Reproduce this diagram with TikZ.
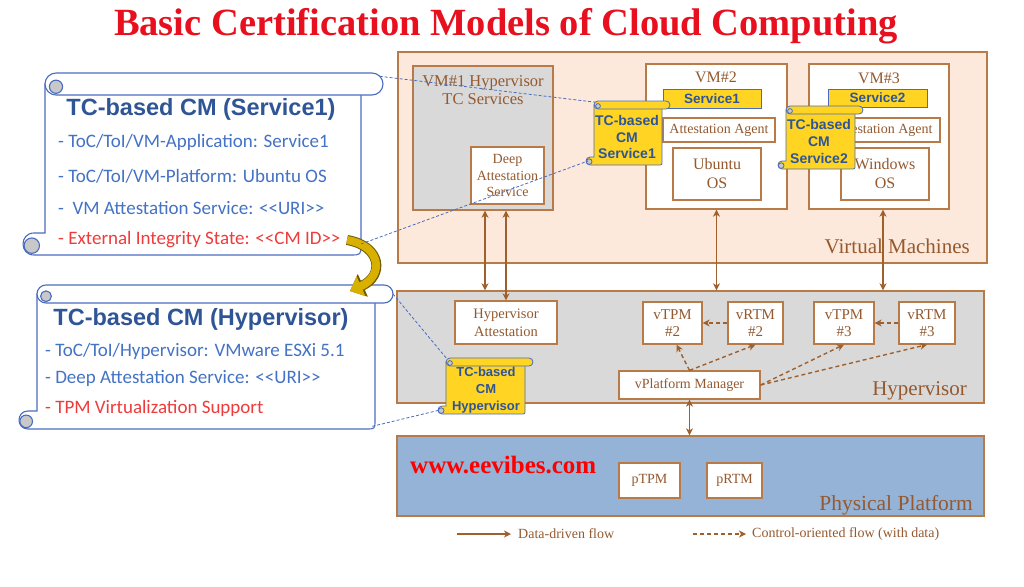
\documentclass[tikz,border=0pt]{standalone}
\usepackage{fontspec}
\setmainfont{Liberation Serif}
\newfontfamily\arialf{Liberation Sans}
\newfontfamily\calib{Carlito}
\usetikzlibrary{arrows.meta}
\definecolor{vmfill}{HTML}{FDE9DB}
\definecolor{grayfill}{HTML}{D9D9D9}
\definecolor{physfill}{HTML}{95B3D7}
\definecolor{brd}{HTML}{B87B47}
\definecolor{brtxt}{HTML}{94592F}
\definecolor{brarr}{HTML}{A0602C}
\definecolor{scrblue}{HTML}{4A6CC0}
\definecolor{cmblue}{HTML}{2F5597}
\definecolor{itemblue}{HTML}{4472C4}
\definecolor{itemred}{HTML}{EE3B3B}
\definecolor{titlered}{HTML}{E8101E}
\definecolor{scryel}{HTML}{FFD422}
\definecolor{gold}{HTML}{D8B000}
\definecolor{goldedge}{HTML}{6E5B00}
\definecolor{curlgray}{HTML}{C8C8C8}
\newcommand\dlt{<\kern0pt<}
\newcommand\dgt{>\kern0pt>}
% scroll: name, left, top, right, bottom, roll radius, extra style
\newcommand{\cmscroll}[7]{%
  \filldraw[scrl, #7] (#2,#3+#6) -- (#2,#5-2*#6) -- (#2-#6,#5-2*#6)
    .. controls (#2-2.33*#6,#5-2*#6) and (#2-2.33*#6,#5) .. (#2-#6,#5)
    -- (#4-3*#6,#5) .. controls (#4-2*#6,#5) .. (#4-2*#6,#5-#6)
    -- (#4-2*#6,#3+#6) -- cycle;
  \filldraw[scrl, #7, fill=curlgray] (#2-1.2*#6,#5-0.85*#6) circle[radius=0.7*#6];
  \filldraw[scrl, #7, rounded corners=#6pt] (#2,#3) rectangle (#4,#3+2*#6);
  \filldraw[scrl, #7, fill=curlgray] (#2+#6,#3+1.25*#6) circle[radius=0.6*#6];
  \coordinate (#1-ne) at (#4-0.3*#6,#3+0.3*#6);
  \coordinate (#1-e) at (#4,#3+#6);
  \coordinate (#1-nw) at (#2+0.3*#6,#3+0.3*#6);
  \coordinate (#1-sw) at (#2-1.5*#6,#5-#6);
  \coordinate (#1-e2) at (#4-2*#6,#5-#6);
  \coordinate (#1-se) at (#4-2.3*#6,#5-0.3*#6);
}

\begin{document}
\begin{tikzpicture}[x=1pt, y=-1pt,
  layer/.style={draw=brd, line width=1.3pt, inner sep=0pt},
  wbox/.style={draw=brd, line width=1.2pt, fill=white, inner sep=0pt, align=center, text=brtxt, font=\fontsize{14}{16.5}\selectfont},
  lbl/.style={inner sep=0pt, text=brtxt, align=center},
  ybar/.style={draw=scrblue, line width=0.8pt, fill=scryel, inner sep=0pt, text=cmblue, font=\arialf\bfseries\fontsize{13.5}{15}\selectfont},
  cmtxt/.style={inner sep=0pt, align=center, text=cmblue, font=\arialf\bfseries\fontsize{14}{16.5}\selectfont},
  cmtitle/.style={inner sep=0pt, anchor=base, text=cmblue, font=\arialf\bfseries\fontsize{23.5}{26}\selectfont},
  item/.style={inner sep=0pt, anchor=base west, text=itemblue, font=\calib\fontsize{19}{22}\selectfont},
  arr/.style={{Stealth[length=7pt,width=7pt,inset=2pt]}-{Stealth[length=7pt,width=7pt,inset=2pt]}, line width=1.4pt, draw=brarr},
  sarr/.style={-{Stealth[length=7pt,width=7pt,inset=2pt]}, line width=1.4pt, draw=brarr},
  darr/.style={-{Stealth[length=7pt,width=7pt,inset=2pt]}, dash pattern=on 4pt off 3pt, line width=1.4pt, draw=brarr},
  link/.style={draw=scrblue, line width=0.8pt, dash pattern=on 3pt off 2pt},
  scrl/.style={draw=scrblue}
]
  \useasboundingbox (0,0) rectangle (1024,586);
  \node[inner sep=0pt, anchor=base, text=titlered, font=\bfseries\fontsize{38.5}{40}\selectfont] (title) at (506,36) {Basic Certification Models of Cloud Computing};

  % layers
  \node[layer, fill=vmfill, minimum width=589pt, minimum height=211pt] (vms) at (692.5,157.5) {};
  \node[layer, fill=grayfill, minimum width=587pt, minimum height=112pt] (hyp) at (690.5,347) {};
  \node[layer, fill=physfill, minimum width=587pt, minimum height=80pt] (phys) at (690.5,476) {};
  \node[lbl, anchor=base east, font=\fontsize{21}{24}\selectfont] (vmslbl) at (970,253) {Virtual Machines};
  \node[lbl, anchor=base east, font=\fontsize{21}{24}\selectfont] (hyplbl) at (967,395) {Hypervisor};
  \node[lbl, anchor=base east, font=\fontsize{21.5}{24}\selectfont] (physlbl) at (973,510) {Physical Platform};

  % VM#1
  \node[layer, fill=grayfill, minimum width=140pt, minimum height=144pt] (vm1) at (483,138) {};
  \node[lbl, font=\fontsize{16.5}{18}\selectfont] (vm1lbl) at (483,90) {VM\#1 Hypervisor\\TC Services};
  \node[wbox, minimum width=73pt, minimum height=57pt] (deep) at (507.5,175.5) {Deep\\Attestation\\Service};

  % VM#2
  \node[layer, fill=white, minimum width=141pt, minimum height=145pt] (vm2) at (716.5,136.5) {};
  \node[lbl, font=\fontsize{16}{18}\selectfont] (vm2lbl) at (716,77) {VM\#2};
  \node[ybar, minimum width=98pt, minimum height=19pt] (svc1) at (712,98.5) {Service1};
  \node[wbox, minimum width=112pt, minimum height=24pt] (agent2) at (719,130) {Attestation Agent};
  \node[wbox, minimum width=88pt, minimum height=52pt, font=\fontsize{16}{19}\selectfont] (ubuntu) at (717,174) {Ubuntu\\OS};

  % VM#3
  \node[layer, fill=white, minimum width=140pt, minimum height=145pt] (vm3) at (879,136.5) {};
  \node[lbl, font=\fontsize{16}{18}\selectfont] (vm3lbl) at (879,78) {VM\#3};
  \node[ybar, minimum width=99pt, minimum height=18pt] (svc2) at (877.5,98) {Service2};
  \node[wbox, minimum width=114pt, minimum height=24pt] (agent3) at (883,130) {Attestation Agent};
  \node[wbox, minimum width=88pt, minimum height=52pt, font=\fontsize{16}{19}\selectfont] (windows) at (885,174) {Windows\\OS};

  % hypervisor
  \node[wbox, minimum width=102pt, minimum height=43pt, font=\fontsize{14.5}{18}\selectfont] (hypatt) at (506,322.5) {Hypervisor\\Attestation};
  \node[wbox, minimum width=59pt, minimum height=42pt, font=\fontsize{15}{17}\selectfont] (vtpm2) at (672.5,323) {vTPM\\\#2};
  \node[wbox, minimum width=55pt, minimum height=42pt, font=\fontsize{15}{17}\selectfont] (vrtm2) at (755.5,323) {vRTM\\\#2};
  \node[wbox, minimum width=60pt, minimum height=42pt, font=\fontsize{15}{17}\selectfont] (vtpm3) at (844,323) {vTPM\\\#3};
  \node[wbox, minimum width=56pt, minimum height=42pt, font=\fontsize{15}{17}\selectfont] (vrtm3) at (927,323) {vRTM\\\#3};
  \node[wbox, minimum width=141pt, minimum height=28pt] (vpm) at (689.5,385) {vPlatform Manager};

  % physical platform
  \node[wbox, minimum width=61pt, minimum height=35pt] (ptpm) at (649.5,480.5) {pTPM};
  \node[wbox, minimum width=55pt, minimum height=35pt] (prtm) at (734.5,480.5) {pRTM};
  \node[inner sep=0pt, anchor=base west, text=red, font=\bfseries\fontsize{25}{28}\selectfont] (web) at (410,473) {www.eevibes.com};

  % flows
  \draw[arr] ([xshift=2pt]vm1.south) -- ([xshift=2pt]vm1.south |- hyp.north);
  \draw[arr] (hypatt.north |- vm1.south) -- (hypatt.north);
  \draw[arr] (vm2.south) -- (vm2.south |- hyp.north);
  \draw[arr] ([xshift=4pt]vm3.south) -- ([xshift=4pt]vm3.south |- hyp.north);
  \draw[arr] (vpm.south) -- (vpm.south |- phys.north);
  \draw[darr] (vrtm2.west) -- (vtpm2.east);
  \draw[darr] (vrtm3.west) -- (vtpm3.east);
  \draw[darr] (vpm.north) -- ([xshift=4pt]vtpm2.south);
  \draw[darr] (vpm.north) -- (vrtm2.south);
  \draw[darr] (vpm.east) -- (vtpm3.south);
  \draw[darr] (vpm.east) -- (vrtm3.south);

  % legend
  \coordinate (lg1a) at (457,534); \coordinate (lg1b) at (511,534);
  \coordinate (lg2a) at (693,534); \coordinate (lg2b) at (746,534);
  \draw[sarr] (lg1a) -- (lg1b);
  \draw[darr] (lg2a) -- (lg2b);
  \node[lbl, anchor=west, font=\fontsize{14}{16}\selectfont] (lg1) at (518,534) {Data-driven flow};
  \node[lbl, anchor=west, font=\fontsize{14}{16}\selectfont] (lg2) at (752,534) {Control-oriented flow (with data)};

  % certification model scrolls
  \cmscroll{cms}{45}{73}{383}{255}{11}{fill=white, line width=1.1pt}
  \node[cmtitle] (cmstitle) at (201,115) {TC-based CM (Service1)};
  \node[item] (cms1) at (58,147) {- ToC/ToI/VM-Application: Service1};
  \node[item] (cms2) at (58,182) {- ToC/ToI/VM-Platform: Ubuntu OS};
  \node[item] (cms3) at (58,214) {-\ \ VM Attestation Service: \dlt URI\dgt};
  \node[item, text=itemred] (cms4) at (58,244) {- External Integrity State: \dlt CM ID\dgt};

  \cmscroll{cmh}{37}{285}{393}{429}{9}{fill=white, line width=1.1pt}
  \node[cmtitle] (cmhtitle) at (201,325) {TC-based CM (Hypervisor)};
  \node[item] (cmh1) at (45,356) {- ToC/ToI/Hypervisor: VMware ESXi 5.1};
  \node[item] (cmh2) at (45,383) {- Deep Attestation Service: \dlt URI\dgt};
  \node[item, text=itemred] (cmh3) at (45,413) {- TPM Virtualization Support};

  % curved arrow between scrolls
  \coordinate (ya) at (347,240); \coordinate (yb) at (350,291);
  \draw[line width=10pt, draw=goldedge, -{Triangle[length=14pt,width=24pt]}] (ya) .. controls (382,246) and (384,276) .. (yb);
  \draw[line width=8pt, draw=gold, -{Triangle[length=12pt,width=21pt]}] (ya) .. controls (382,246) and (384,276) .. (yb);

  % small scrolls
  \cmscroll{s1}{594}{101}{670}{165}{4}{fill=scryel, line width=0.8pt}
  \node[cmtxt] (s1txt) at (627,137) {TC-based\\CM\\Service1};
  \cmscroll{s2}{786}{106}{863}{169}{4}{fill=scryel, line width=0.8pt}
  \node[cmtxt, font=\arialf\bfseries\fontsize{14}{17}\selectfont] (s2txt) at (819,141) {TC-based\\CM\\Service2};
  \cmscroll{s3}{446}{358}{533}{414}{4}{fill=scryel, line width=0.8pt}
  \node[cmtxt, font=\arialf\bfseries\fontsize{13}{17}\selectfont] (s3txt) at (486,390) {TC-based\\CM\\Hypervisor};

  % links
  \draw[link] (cms-ne) -- (s1-nw);
  \draw[link] (cms-e2) -- (s1-sw);
  \draw[link] (cmh-e) -- (s3-nw);
  \draw[link] (cmh-se) -- (s3-sw);
\end{tikzpicture}
\end{document}
